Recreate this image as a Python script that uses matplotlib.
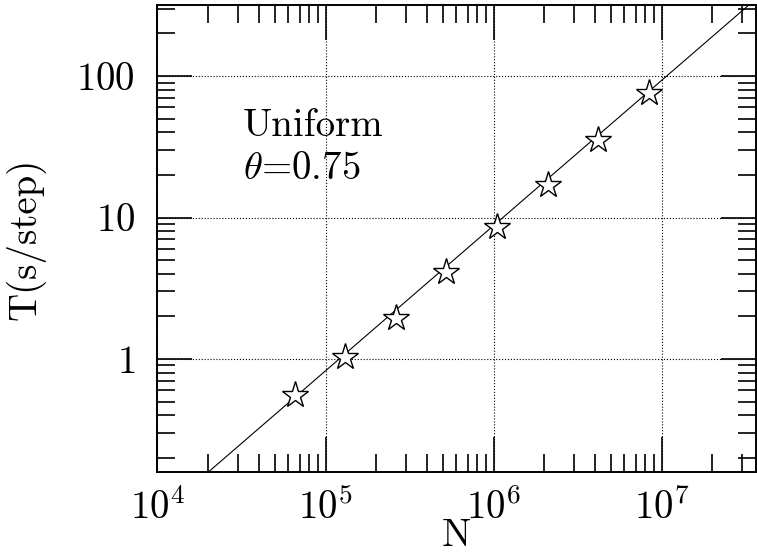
import numpy as np
import matplotlib
matplotlib.use("Agg")
import matplotlib.pyplot as plt
from matplotlib.ticker import LogLocator, FuncFormatter, NullFormatter

# particle numbers (2^16 ... 2^23) and time per step
N = [65536, 131072, 262144, 524288, 1048576, 2097152, 4194304, 8388608]
T = [0.557, 1.03, 1.95, 4.14, 8.61, 16.9, 35.3, 75.5]

# fitted power law, drawn across the frame
fit_N = [2.0e4, 3.3e7]
fit_T = [0.158, 318.0]

xlim = (1e4, 3.64e7)
ylim = (0.158, 318.0)

plt.rcParams['font.family'] = ['cmr10', 'DejaVu Serif']
plt.rcParams['mathtext.fontset'] = 'cm'
plt.rcParams['axes.formatter.use_mathtext'] = True

FS = 28

fig = plt.figure(figsize=(7.57, 5.55), dpi=100)
ax = fig.add_axes([0.208, 0.149, 0.7907, 0.842])

ax.set_xscale('log')
ax.set_yscale('log')
ax.set_xlim(*xlim)
ax.set_ylim(*ylim)

ax.plot(fit_N, fit_T, color='black', lw=0.8)
ax.plot(N, T, ls='none', marker='*', ms=20, mfc='white', mec='black', mew=1.0)

ax.grid(True, which='major', ls=':', color='black', lw=0.8)

ax.xaxis.set_major_locator(LogLocator(base=10))
ax.xaxis.set_minor_locator(LogLocator(base=10, subs=np.arange(2, 10)))
ax.yaxis.set_major_locator(LogLocator(base=10))
ax.yaxis.set_minor_locator(LogLocator(base=10, subs=np.arange(2, 10)))
ax.xaxis.set_major_formatter(FuncFormatter(lambda v, p: r"$10^{%d}$" % round(np.log10(v))))
ax.yaxis.set_major_formatter(FuncFormatter(lambda v, p: r"$%g$" % v))
ax.xaxis.set_minor_formatter(NullFormatter())
ax.yaxis.set_minor_formatter(NullFormatter())

ax.tick_params(which='both', direction='in', top=True, right=True, width=1.2, labelsize=FS)
ax.tick_params(which='major', length=25)
ax.tick_params(which='minor', length=13)
ax.tick_params(axis='x', which='major', pad=12)
ax.tick_params(axis='y', which='major', pad=16)
for s in ax.spines.values():
    s.set_linewidth(1.4)

ax.set_xlabel("N", fontsize=FS, labelpad=-7)
ax.set_ylabel("T(s/step)", fontsize=FS, labelpad=22)

ax.text(0.143, 0.72, "Uniform", transform=ax.transAxes, fontsize=FS)
ax.text(0.143, 0.628, r"$\theta$=0.75", transform=ax.transAxes, fontsize=FS)

fig.savefig("out.png", dpi=100)
